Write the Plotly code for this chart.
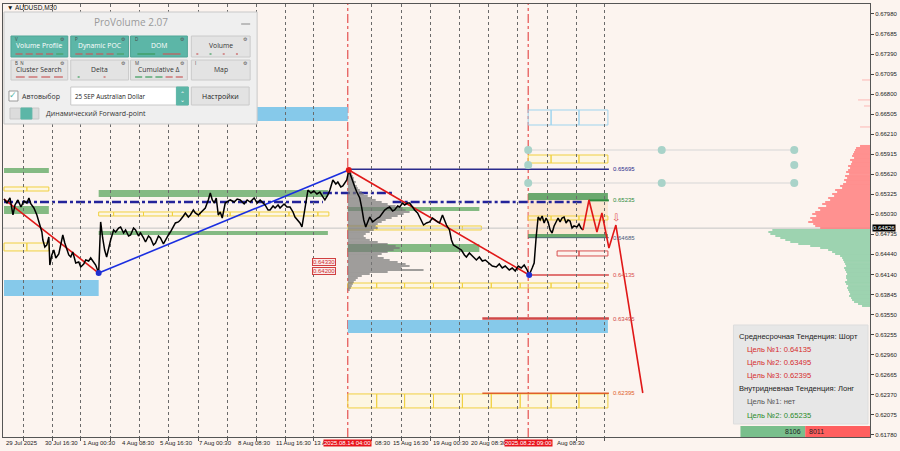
import plotly.graph_objects as go

# ---------------- DATA ----------------
# price path (bar position on the time axis, close price)
bar_pos = [3, 6, 9, 12, 14, 17, 20, 23, 26, 28,
           30, 33, 36, 38, 41, 42, 44, 46, 48, 49,
           51, 53, 55, 58, 60, 62, 64, 66, 68, 70,
           72, 75, 78, 80, 83, 85, 88, 90, 93, 95,
           98, 100, 102, 104, 106, 108, 110, 113, 115, 118,
           120, 123, 125, 128, 130, 133, 135, 138, 140, 143,
           145, 148, 150, 153, 155, 158, 160, 163, 165, 168,
           170, 173, 175, 178, 180, 183, 185, 188, 190, 193,
           195, 198, 200, 203, 205, 208, 210, 212, 214, 216,
           218, 220, 222, 225, 228, 230, 234, 237, 240, 244,
           247, 250, 254, 257, 260, 263, 265, 268, 270, 273,
           275, 278, 280, 284, 287, 290, 293, 295, 298, 300,
           302, 304, 306, 308, 311, 314, 317, 320, 323, 325,
           328, 330, 333, 336, 338, 341, 343, 345, 347, 349,
           351, 353, 355, 357, 360, 362, 364, 366, 368, 370,
           373, 375, 378, 380, 383, 385, 388, 390, 393, 395,
           398, 400, 403, 405, 408, 410, 413, 415, 418, 420,
           422, 424, 427, 430, 433, 435, 438, 440, 443, 445,
           447, 450, 452, 454, 457, 460, 462, 465, 467, 470,
           472, 475, 477, 480, 483, 486, 490, 493, 497, 500,
           503, 506, 510, 513, 516, 519, 522, 525, 528, 530,
           533, 535, 537, 539, 541, 543, 545, 547, 549, 551,
           553, 555, 557, 559, 561, 563, 565, 567, 569, 571,
           573, 575, 578, 580, 582, 584]
close = [.65255, .65196, .65270, .65020, .65167, .65241, .65137, .65226, .65196, .65270,
         .65182, .65123, .65020, .64917, .64769, .64651, .64548, .64578, .64696, .64283,
         .64431, .64504, .64387, .64445, .64578, .64725, .64607, .64504, .64431, .64401,
         .64475, .64313, .64328, .64254, .64298, .64357, .64342, .64387, .64328, .64283,
         .64165, .64917, .64681, .64504, .64401, .64534, .64651, .64799, .64769, .64828,
         .64843, .64755, .64799, .64710, .64725, .64828, .64799, .64710, .64755, .64681,
         .64622, .64710, .64681, .64578, .64607, .64710, .64681, .64593, .64651, .64725,
         .64769, .64858, .64902, .64917, .64946, .65005, .65049, .64990, .65020, .65093,
         .65049, .65020, .65049, .65093, .65123, .65241, .65344, .65241, .65196, .65270,
         .65020, .65064, .64975, .65196, .65226, .65241, .65211, .65255, .65241, .65182,
         .65241, .65211, .65270, .65196, .65241, .65196, .65167, .65093, .65093, .65152,
         .65123, .65167, .65123, .65182, .65137, .65137, .65064, .64990, .64946, .64902,
         .64843, .65020, .65241, .65387, .65344, .65373, .65329, .65358, .65285, .65241,
         .65314, .65387, .65535, .65476, .65505, .65432, .65447, .65491, .65535, .65682,
         .65594, .65491, .65432, .65358, .65270, .65123, .64946, .64843, .64931, .64990,
         .64917, .64946, .64975, .64990, .65049, .65093, .65123, .65137, .65079, .65093,
         .65152, .65137, .65196, .65167, .65196, .65196, .65137, .65093, .65049, .64990,
         .64946, .64872, .64902, .64917, .64975, .64946, .64917, .64902, .65020, .64946,
         .64872, .64799, .64651, .64578, .64548, .64519, .64504, .64431, .64401, .64460,
         .64431, .64387, .64357, .64401, .64342, .64357, .64313, .64268, .64254, .64298,
         .64239, .64268, .64210, .64239, .64195, .64268, .64239, .64283, .64210, .64136,
         .64239, .64313, .64696, .64990, .64946, .65005, .64902, .64975, .64917, .64799,
         .64755, .64858, .64917, .64975, .64917, .64975, .64990, .64902, .64946, .64931,
         .64828, .64858, .64843, .64887, .64828, .64799]

# forecast zig-zag
fc_pos = [584, 590, 598, 603, 610, 617, 644]
fc_price = [.64799, .65241, .64769, .65049, .64534, .64872, .62398]

# trend lines (start/end)
tr_red1_pos = [3, 98];    tr_red1_price = [.65255, .64165]
tr_blue_pos = [98, 349];  tr_blue_price = [.64165, .65682]
tr_red2_pos = [349, 530]; tr_red2_price = [.65682, .64136]
pivot_blue_pos = [98, 530];  pivot_blue_price = [.64165, .64136]
pivot_red_pos = [349];       pivot_red_price = [.65682]

# axis
y_ticks = [0.67980, 0.67685, 0.67390, 0.67095, 0.66800, 0.66505, 0.66210, 0.65915,
           0.65620, 0.65325, 0.65030, 0.64735, 0.64440, 0.64140, 0.63845, 0.63550,
           0.63255, 0.62960, 0.62665, 0.62370, 0.62075, 0.61780]
grid_pos = [23, 52, 80, 110, 139, 168, 198, 227, 256, 285, 314, 372, 402, 431,
            460, 489, 518, 548, 577, 606]
# visible (uncovered) parts of the time labels
x_label_pos = [3, 42, 80, 119, 158, 197, 236, 274, 312, 373, 391, 431, 470, 556]
x_label_text = ["29 Jul 2025", "30 Jul 16:30", "1 Aug 00:30", "4 Aug 08:30", "5 Aug 16:30",
                "7 Aug 00:30", "8 Aug 08:30", "11 Aug 16:30", "13 A", "08:30",
                "15 Aug 16:30", "19 Aug 00:30", "20 Aug 08:30", "Aug 08:30"]
marker_pos = [348, 529]
marker_text = ["2025.08.14 04:00", "2025.08.22 09:00"]
current_price = 0.64826

# zones: (start, end, low, high)
green_zones = [(3, 48, .65638, .65712), (3, 48, .65034, .65152),
               (98, 328, .65285, .65387), (98, 328, .64725, .64784),
               (348, 480, .65079, .65137), (348, 480, .64475, .64593)]
green_zones_dark = [(529, 609, .65241, .65344), (529, 609, .64681, .64740)]
blue_zones = [(3, 98, .63827, .64062), (255, 348, .66404, .66610), (348, 609, .63282, .63474)]
peach_zone = (529, 609, .64740, .65241)
# outlined cell zones: (cell edges, low, high)
yellow_cells = [([3, 26, 48], .65373, .65432),
                ([3, 26, 48], .64490, .64607),
                ([98, 113, 143, 172, 200, 230, 259, 289, 318, 329], .65005, .65064),
                ([348, 377, 405, 463, 482], .64799, .64858),
                ([348, 377, 405, 434, 463, 492, 521, 552, 580, 609], .63945, .64018),
                ([348, 377, 405, 434, 463, 492, 521, 552, 580, 609], .62178, .62384),
                ([529, 552, 580, 609], .65785, .65903),
                ([529, 552, 580, 609], .64946, .65005)]
lightblue_cells = [([529, 552, 580, 609], .66345, .66566)]
red_cells = [([558, 580, 609], .64416, .64490)]

# dash-dot level segments
dashdot_segments = [(3, 323, .65211), (323, 393, .65344), (393, 583, .65211)]
# target levels: (start, end, price, label)
target_levels = [(348, 610, .65695, "0.65695"), (590, 610, .65235, "0.65235"),
                 (529, 610, .64685, "0.64685"), (529, 610, .64135, "0.64135"),
                 (483, 610, .63495, "0.63495"), (483, 610, .62395, "0.62395")]
small_levels = [.64330, .64200]
grid_node_pos = [529, 529, 529, 663, 663, 796, 796, 796]
grid_node_price = [.65977, .65756, .65491, .65977, .65491, .65977, .65756, .65491]

# middle volume profile (anchored at 348)
vp_mid_price = [round(0.68186 - 0.00014727 * y, 5) for y in range(172, 292, 2)]
vp_mid_len = [3, 4, 5, 6, 6, 8, 7, 9,
              10, 12, 14, 16, 20, 24, 28, 34,
              40, 48, 55, 58, 62, 56, 50, 44,
              38, 34, 30, 28, 30, 26, 22, 18,
              16, 18, 22, 30, 40, 48, 52, 46,
              40, 34, 30, 36, 42, 50, 58, 62,
              54, 76, 40, 22, 14, 10, 8, 6,
              5, 4, 3, 2]
# right volume profile (anchored at right edge)
vp_red_price = [round(0.68186 - 0.00014727 * y, 5) for y in range(146, 230, 2)]
vp_red_len = [10, 14, 15, 16,
              17, 18, 16, 20, 18, 19, 22, 20,
              22, 24, 21, 25, 23, 26, 24, 27,
              30, 28, 35, 33, 38, 36, 42, 40,
              45, 48, 44, 52, 50, 55, 58, 54,
              60, 58, 62, 57, 55, 50]
vp_green_price = [round(0.68186 - 0.00014727 * y, 5) for y in range(230, 308, 2)]
vp_green_len = [98, 102, 100, 95, 90, 85, 80, 72,
                60, 50, 42, 38, 35, 30, 28, 27,
                26, 25, 24, 26, 25, 24, 23, 24,
                24, 23, 25, 24, 22, 23, 22, 21,
                20, 21, 19, 18, 16, 12, 8]
# isolated thin volume lines in the upper profile
vp_thin_price = [0.67008, 0.66714, 0.66625, 0.66316]
vp_thin_len = [8, 12, 6, 10]
vol_buy, vol_sell = 8106, 8011

# ---------------- FIGURE ----------------
BG = '#fcf4ef'
W, H = 900, 451
ML, MR, MT, MB = 2, 28, 4, 14
X0, X1 = 2, 872
Y0, Y1 = 0.61750, 0.68127
PW, PH = W - ML - MR, H - MT - MB


def PX(x):
    return (x - ML) / PW


def PY(y):
    return (MT + PH - y) / PH


shapes = []
ann = []


def rect(x0, x1, y0, y1, fill, lc=None, lw=0, layer='below', ref='data'):
    xr, yr = ('x', 'y') if ref == 'data' else ('paper', 'paper')
    shapes.append(dict(type='rect', xref=xr, yref=yr, x0=x0, x1=x1, y0=y0, y1=y1,
                       fillcolor=fill, line=dict(color=lc or 'rgba(0,0,0,0)', width=lw),
                       layer=layer))


def hline(x0, x1, y, color, width=1, dash='solid', layer='below', ref='data'):
    xr, yr = ('x', 'y') if ref == 'data' else ('paper', 'paper')
    shapes.append(dict(type='line', xref=xr, yref=yr, x0=x0, x1=x1, y0=y, y1=y,
                       line=dict(color=color, width=width, dash=dash), layer=layer))


def text(x, y, s, size=7, color='#222', xanchor='left', family='Liberation Sans', ref='paper', **kw):
    xr, yr = ('x', 'y') if ref == 'data' else ('paper', 'paper')
    ann.append(dict(x=x, y=y, xref=xr, yref=yr, text=s, showarrow=False, xanchor=xanchor,
                    yanchor='middle', font=dict(size=size, color=color, family=family), **kw))


# zones
rect(*peach_zone[:2], *peach_zone[2:], 'rgba(252,215,175,0.45)')
for z in blue_zones:
    rect(z[0], z[1], z[2], z[3], '#86c9ea')
for z in green_zones:
    rect(z[0], z[1], z[2], z[3], 'rgba(110,175,112,0.85)')
for z in green_zones_dark:
    rect(z[0], z[1], z[2], z[3], 'rgba(90,160,95,0.9)')
for edges, lo, hi in yellow_cells:
    for a, b in zip(edges[:-1], edges[1:]):
        rect(a, b, lo, hi, 'rgba(255,250,205,0.35)', '#f0d040', 1)
for edges, lo, hi in lightblue_cells:
    for a, b in zip(edges[:-1], edges[1:]):
        rect(a, b, lo, hi, 'rgba(0,0,0,0)', '#9fd4ee', 1)
for edges, lo, hi in red_cells:
    for a, b in zip(edges[:-1], edges[1:]):
        rect(a, b, lo, hi, 'rgba(0,0,0,0)', '#d85050', 1)

# current price line
hline(X0, X1, current_price, '#c4c4c4', 1)
# grid node lines
hline(529, 796, grid_node_price[0], '#d6d6d6', 1)
hline(529, 796, grid_node_price[2], '#d6d6d6', 1)
# dash-dot levels
for a, b, p in dashdot_segments:
    hline(a, b, p, '#23239a', 2.5, 'dashdot')
# targets
lvl_colors = ['#2b2b8c', '#2e8b3e', '#4a5a7a', '#d94a4a', '#d04848', '#e0602a']
lvl_widths = [1.5, 2, 0.8, 1.5, 2.5, 1.5]
for (a, b, p, lab), c, w in zip(target_levels, lvl_colors, lvl_widths):
    hline(a, b, p, c, w)
    text(b + 2, p, lab, size=6, color=c, ref='data')
# red vertical markers
for xm in marker_pos:
    shapes.append(dict(type='line', xref='x', yref='paper', x0=xm, x1=xm, y0=0, y1=1,
                       line=dict(color='#e03030', width=1, dash='dashdot'), layer='below'))

fig = go.Figure()
# volume profiles
fig.add_trace(go.Bar(orientation='h', y=vp_mid_price, x=vp_mid_len, base=[348] * len(vp_mid_len),
                     width=0.0003, marker=dict(color='rgba(120,120,120,0.7)', line=dict(width=0))))
fig.add_trace(go.Bar(orientation='h', y=vp_red_price, x=vp_red_len, base=[X1 - v for v in vp_red_len],
                     width=0.0003, marker=dict(color='rgba(255,120,120,0.8)', line=dict(width=0))))
fig.add_trace(go.Bar(orientation='h', y=vp_thin_price, x=vp_thin_len, base=[X1 - v for v in vp_thin_len],
                     width=0.00012, marker=dict(color='rgba(255,120,120,0.6)', line=dict(width=0))))
fig.add_trace(go.Bar(orientation='h', y=vp_green_price, x=vp_green_len,
                     base=[X1 - v for v in vp_green_len],
                     width=0.0003, marker=dict(color='rgba(140,205,165,0.85)', line=dict(width=0))))
# trend lines
fig.add_trace(go.Scatter(x=tr_red1_pos, y=tr_red1_price, mode='lines', line=dict(color='#e01818', width=1.6)))
fig.add_trace(go.Scatter(x=tr_blue_pos, y=tr_blue_price, mode='lines', line=dict(color='#1a2ee0', width=1.6)))
fig.add_trace(go.Scatter(x=tr_red2_pos, y=tr_red2_price, mode='lines', line=dict(color='#e01818', width=1.6)))
# price
fig.add_trace(go.Scatter(x=bar_pos, y=close, mode='lines', line=dict(color='#000000', width=1.5)))
# forecast
fig.add_trace(go.Scatter(x=fc_pos, y=fc_price, mode='lines', line=dict(color='#e01818', width=1.6)))
# pivots
fig.add_trace(go.Scatter(x=pivot_blue_pos, y=pivot_blue_price, mode='markers',
                         marker=dict(color='#2030d0', size=6)))
fig.add_trace(go.Scatter(x=pivot_red_pos, y=pivot_red_price, mode='markers',
                         marker=dict(color='#e01818', size=6)))
fig.add_trace(go.Scatter(x=grid_node_pos, y=grid_node_price, mode='markers',
                         marker=dict(color='#a9d3c9', size=8)))

# small level labels
for p in small_levels:
    text(312, p, f"{p:.5f}", size=6, color='#d03030', ref='data',
         bgcolor='#fbeaea', bordercolor='#d04040', borderwidth=1, borderpad=0)
# arrow marker
text(617, 0.64990, "⇩", size=10, color='#e05050', xanchor='center', family='DejaVu Sans', ref='data')

# ---- x axis labels ----
for xp, t in zip(x_label_pos, x_label_text):
    text(PX(xp), PY(443), t, size=6, color='#222')
for xp, t in zip(marker_pos, marker_text):
    text(PX(xp), PY(443), t, size=6, color='#ffffff', xanchor='center',
         bgcolor='#e8141c', borderpad=0)
# current price label on axis
text(1.0, current_price, f"{current_price:.5f}", size=6, color='#ffffff', bgcolor='#000000',
     borderpad=0, ref='paper')
ann[-1]['yref'] = 'y'
ann[-1]['xshift'] = 2

# symbol label
text(PX(4), PY(7), "▼ AUDUSD,M30", size=6.5, color='#111')

# ---- ProVolume panel ----
TEAL = '#5cb6a7'
rect(PX(3), PX(257), PY(124), PY(12), '#efefef', '#c9c9c9', 1, layer='above', ref='paper')
text(PX(130), PY(22), "ProVolume 2.07", size=10, color='#9a9a9a', xanchor='center', family='Open Sans')
hline(PX(241), PX(250), PY(24), '#999', 1.2, layer='above', ref='paper')
buttons = [("Volume Profile", 10, 67, 36, 57, True, "V", ['#c85a5a'] * 4 + ['#4aa066']),
           ("Dynamic POC", 70, 128, 36, 57, True, "P", ['#c85a5a'] * 4 + ['#4aa066']),
           ("DOM", 130, 187, 36, 57, True, "D", ['#3a9a5a', '#c85a5a']),
           ("Volume", 191, 250, 36, 57, False, "", ['#c85a5a', '#3a9a5a', '#c85a5a', '#c85a5a']),
           ("Cluster Search", 10, 67, 60, 80, False, "B  N", ['#c85a5a'] * 4),
           ("Delta", 70, 128, 60, 80, False, "", ['#3a9a5a', '#c85a5a']),
           ("Cumulative Δ", 130, 187, 60, 80, False, "M", ['#3a9a5a'] * 3 + ['#c85a5a'] * 2),
           ("Map", 191, 250, 60, 80, False, "I", [])]
for lab, x0, x1, y0, y1, on, tag, dashes in buttons:
    rect(PX(x0), PX(x1), PY(y1), PY(y0), TEAL if on else '#e3e3e3',
         '#4fa596' if on else '#cacaca', 1, layer='above', ref='paper')
    ty = y0 + 10
    text(PX((x0 + x1) / 2), PY(ty), lab, size=6.8, color='#ffffff' if on else '#333',
         xanchor='center', family='Open Sans')
    if tag:
        text(PX(x0 + 2), PY(y0 + 3), tag, size=4.5, color='#444', family='Open Sans')
    text(PX(x1 - 5), PY(y0 + 3), "⚙", size=5, color='#555', xanchor='center', family='DejaVu Sans')
    if dashes:
        n = len(dashes)
        seg = (x1 - x0 - 6) / n
        for i, c in enumerate(dashes):
            a = x0 + 3 + i * seg + seg * 0.15
            b = a + (seg * 0.7 if lab not in ("Volume", "Delta") else 2)
            hline(PX(a), PX(b), PY(y1 - 3), c, 1.2, layer='above', ref='paper')
# checkbox
rect(PX(8), PX(17), PY(101), PY(91), '#ffffff', '#9a9a9a', 1, layer='above', ref='paper')
text(PX(12.5), PY(95), "✓", size=9, color=TEAL, xanchor='center', family='DejaVu Sans')
text(PX(19), PY(96), "Автовыбор", size=7, color='#333', family='Open Sans')
# dropdown
rect(PX(70), PX(188), PY(105), PY(87), '#ffffff', '#c8c8c8', 1, layer='above', ref='paper')
rect(PX(176), PX(188), PY(105), PY(87), TEAL, TEAL, 1, layer='above', ref='paper')
text(PX(182), PY(93), "⌃", size=6, color='#ffffff', xanchor='center', family='DejaVu Sans')
text(PX(182), PY(100), "⌄", size=6, color='#ffffff', xanchor='center', family='DejaVu Sans')
text(PX(72), PY(96), "25 SEP Australian Dollar", size=6.3, color='#222', family='Open Sans')
rect(PX(191), PX(249), PY(105), PY(87), '#e3e3e3', '#cacaca', 1, layer='above', ref='paper')
text(PX(220), PY(96), "Настройки", size=7, color='#222', xanchor='center', family='Open Sans')
# toggle
rect(PX(9), PX(38), PY(119), PY(108), '#dcdcdc', '#c8c8c8', 1, layer='above', ref='paper')
rect(PX(20), PX(31), PY(119), PY(108), TEAL, TEAL, 1, layer='above', ref='paper')
text(PX(43), PY(114), "Динамический Forward-point", size=7, color='#333', family='Open Sans')

# ---- info box ----
rect(PX(735), PX(870), PY(424), PY(325), '#e7e7e7', '#dddddd', 1, layer='above', ref='paper')
info_lines = [("Среднесрочная Тенденция: Шорт", '#222', 739, 336),
              ("Цель №1: 0.64135", '#d62c2c', 747, 349),
              ("Цель №2: 0.63495", '#d62c2c', 747, 362),
              ("Цель №3: 0.62395", '#d62c2c', 747, 375),
              ("Внутридневная Тенденция: Лонг", '#222', 739, 388),
              ("Цель №1: нет", '#555', 747, 401),
              ("Цель №2: 0.65235", '#2a8a2a', 747, 415)]
for s, c, xx, yy in info_lines:
    text(PX(xx), PY(yy), s, size=7.6, color=c)
# buy/sell volume bar
rect(PX(742), PX(807), PY(437), PY(426), '#79bf8c', layer='above', ref='paper')
rect(PX(807), PX(872), PY(437), PY(426), '#ff5f5f', layer='above', ref='paper')
text(PX(805), PY(431.5), str(vol_buy), size=7, color='#222', xanchor='right')
text(PX(809), PY(431.5), str(vol_sell), size=7, color='#222')

fig.update_layout(
    width=W, height=H, margin=dict(l=ML, r=MR, t=MT, b=MB),
    paper_bgcolor=BG, plot_bgcolor=BG, showlegend=False, barmode='overlay',
    hovermode=False, shapes=shapes, annotations=ann,
    xaxis=dict(range=[X0, X1], tickvals=grid_pos, showticklabels=False, ticks='outside',
               ticklen=3, tickcolor='#555', showgrid=True, gridcolor='#6a6a6a', griddash='dot',
               gridwidth=1, showline=True, linecolor='#555', mirror=True, zeroline=False),
    yaxis=dict(range=[Y0, Y1], side='right', tickvals=y_ticks,
               ticktext=[f"{v:.5f}" for v in y_ticks], ticks='outside', ticklen=3,
               tickcolor='#444', tickfont=dict(size=6, family='Liberation Sans', color='#222'),
               showgrid=False, showline=True, linecolor='#555', mirror=True, zeroline=False),
)
fig.write_html("out.html", config={'displayModeBar': False},
               post_script="document.body.style.margin='0px';document.body.style.overflow='hidden';document.body.style.background='" + BG + "';")
